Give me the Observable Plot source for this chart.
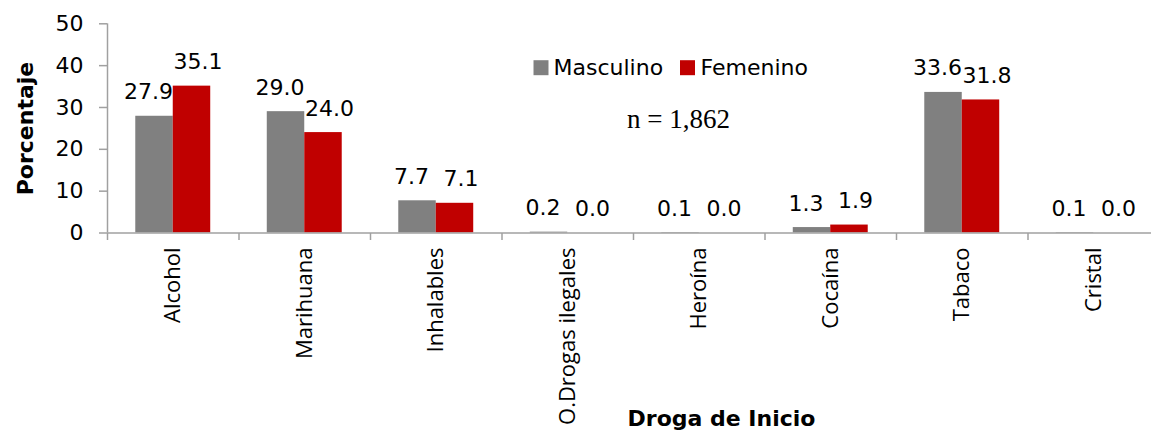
<!DOCTYPE html>
<html>
<head>
<meta charset="utf-8">
<script src="https://cdn.jsdelivr.net/npm/d3@7"></script>
<script src="https://cdn.jsdelivr.net/npm/@observablehq/plot@0.6"></script>
<style>
  html, body { margin: 0; padding: 0; background: #fff; }
  #chart svg { display: block; }
</style>
</head>
<body>
<div id="chart"></div>
<script>
// ---- data ----
const categories = ["Alcohol", "Marihuana", "Inhalables", "O.Drogas ilegales", "Heroína", "Cocaína", "Tabaco", "Cristal"];
const masculino = [27.9, 29.0, 7.7, 0.2, 0.1, 1.3, 33.6, 0.1];
const femenino  = [35.1, 24.0, 7.1, 0.0, 0.0, 1.9, 31.8, 0.0];
const series = ["Masculino", "Femenino"];
const seriesColors = ["#808080", "#C00000"];
const yTicks = [0, 10, 20, 30, 40, 50];
const nLabel = "n = 1,862";
const xTitle = "Droga de Inicio";
const yTitle = "Porcentaje";

// ---- table built from the arrays ----
const rows = categories.flatMap((c, i) => [
  {cat: c, i, sex: series[0], value: masculino[i], k: 0},
  {cat: c, i, sex: series[1], value: femenino[i], k: 1}
]);
const barLeft = d => d.i + (d.k === 0 ? 0.215 : 0.5);
const barRight = d => d.i + (d.k === 0 ? 0.5 : 0.785);
const barMid = d => (barLeft(d) + barRight(d)) / 2;

const axisGray = "#a0a0a0";
const step = 131.5;

const chart = Plot.plot({
  width: 1151,
  height: 433,
  marginLeft: 107,
  marginRight: 0,
  marginTop: 23,
  marginBottom: 200,
  x: {domain: [0, categories.length], range: [107, 107 + step * categories.length]},
  y: {domain: [0, 50], range: [232.5, 23.3]},
  color: {domain: series, range: seriesColors},
  style: {fontFamily: "DejaVu Sans", fontSize: "22px", background: "#fff", color: "#000"},
  marks: [
    Plot.rectY(rows, {x1: barLeft, x2: barRight, y: "value", fill: "sex"}),
    Plot.ruleY([0], {stroke: axisGray, strokeWidth: 1.5}),
    Plot.ruleX([0], {y1: 0, y2: 50, stroke: axisGray, strokeWidth: 1.5}),
    Plot.axisY({ticks: yTicks, tickSize: 8, tickPadding: 16, stroke: axisGray, strokeWidth: 1.5, fill: "#000", fontSize: 22, label: null}),
    Plot.axisX({ticks: d3.range(categories.length + 1), tickSize: 7, tickFormat: () => "", stroke: axisGray, strokeWidth: 1.5, label: null}),
    Plot.axisX({ticks: categories.map((c, i) => i + 0.5), tickSize: 0, tickPadding: 14, tickRotate: -90,
      tickFormat: d => categories[Math.floor(d)], fontFamily: "Open Sans", fontSize: 22, fill: "#000", label: null}),
    // value labels (Masculino nudged left, Femenino nudged right)
    Plot.text(rows.filter(d => d.k === 0), {x: barMid, y: "value", text: d => d.value.toFixed(1), dx: -6, dy: -24, fontSize: 22, fill: "#000"}),
    Plot.text(rows.filter(d => d.k === 1), {x: barMid, y: "value", text: d => d.value.toFixed(1), dx: 6, dy: -24, fontSize: 22, fill: "#000"}),
    // legend
    Plot.dot([series[0]], {frameAnchor: "top-left", dx: 433.5, dy: 44.2, symbol: "square", r: 8.46, fill: seriesColors[0]}),
    Plot.text([series[0]], {frameAnchor: "top-left", text: d => d, dx: 446, dy: 44.7, textAnchor: "start", lineAnchor: "middle", fontSize: 22, fill: "#000"}),
    Plot.dot([series[1]], {frameAnchor: "top-left", dx: 580, dy: 44.2, symbol: "square", r: 8.46, fill: seriesColors[1]}),
    Plot.text([series[1]], {frameAnchor: "top-left", text: d => d, dx: 593, dy: 44.7, textAnchor: "start", lineAnchor: "middle", fontSize: 22, fill: "#000"}),
    // n label
    Plot.text([nLabel], {frameAnchor: "top-left", text: d => d, dx: 571, dy: 96, textAnchor: "middle", lineAnchor: "middle", fontFamily: "Liberation Serif", fontSize: 27, fill: "#000"}),
    // axis titles
    Plot.text([xTitle], {frameAnchor: "bottom-left", text: d => d, dx: 614, dy: 185.5, textAnchor: "middle", lineAnchor: "middle", fontWeight: "bold", fontSize: 22, fill: "#000"}),
    Plot.text([yTitle], {frameAnchor: "left", text: d => d, dx: -82, rotate: -90, textAnchor: "middle", lineAnchor: "middle", fontWeight: "bold", fontSize: 22, fill: "#000"})
  ]
});
document.getElementById("chart").appendChild(chart);
</script>
</body>
</html>
